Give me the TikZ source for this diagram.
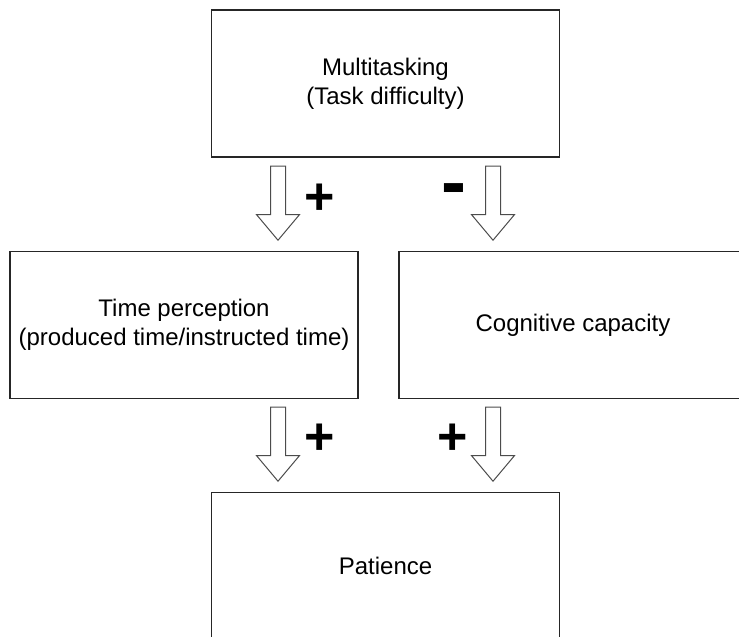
\documentclass[tikz,border=0pt]{standalone}
\usepackage{fontspec}
\setmainfont{Liberation Sans}
\usetikzlibrary{positioning, shapes.arrows}

\begin{document}
\begin{tikzpicture}[x=1pt, y=-1pt,
    box/.style={rectangle, draw=black!85, line width=1.2pt, minimum width=348pt, minimum height=147pt, align=center, font=\fontsize{24}{29}\selectfont},
    downarrow/.style={single arrow, draw=black!70, line width=1pt, fill=white, inner sep=7pt, minimum height=74pt, single arrow head extend=14pt, single arrow tip angle=80, rotate=-90, anchor=tip},
    sign/.style={inner sep=0pt, font=\fontsize{52}{52}\bfseries\selectfont}]
  \useasboundingbox (0,0) rectangle (739,637);
  \clip (0,0) rectangle (739,637);

  \node[box] (multitask) at (385.5, 83.5) {Multitasking\\(Task difficulty)};
  \node[box] (timeperc) at (184, 325) {Time perception\\(produced time/instructed time)};
  \node[box] (cogcap) at (573, 325) {Cognitive capacity};
  \node[box] (patience) at (385.5, 566) {Patience};

  \node[downarrow] (arrTL) at (278, 241) {};
  \node[downarrow] (arrTR) at (493, 241) {};
  \node[downarrow] (arrBL) at (278, 482) {};
  \node[downarrow] (arrBR) at (493, 482) {};

  \node[sign] (plusTL) at (320, 199.5) {+};
  \node[sign, font=\fontsize{75}{75}\bfseries\selectfont] (minusTR) at (454, 195.5) {-};
  \node[sign] (plusBL) at (320, 439.5) {+};
  \node[sign] (plusBR) at (453, 439.5) {+};
\end{tikzpicture}
\end{document}
